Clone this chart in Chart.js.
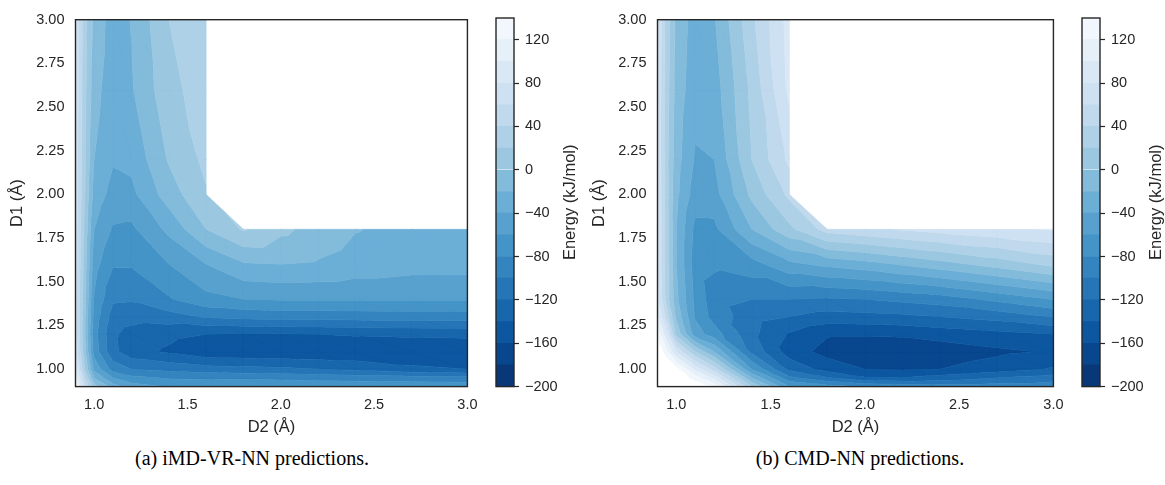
<!DOCTYPE html>
<html>
<head>
<meta charset="utf-8">
<script src="https://cdn.jsdelivr.net/npm/chart.js@4.4.1/dist/chart.umd.min.js"></script>
<style>
  body { margin: 0; background: #fff; width: 1165px; height: 485px; position: relative; overflow: hidden; }
  canvas { position: absolute; top: 0; }
  .cap { position: absolute; top: 447px; font-family: 'Liberation Serif', serif; font-size: 20px; color: #000; white-space: nowrap; transform: translateX(-50%); }
</style>
</head>
<body>
<canvas id="contourA" width="487" height="440" style="left:0"></canvas>
<canvas id="barA" width="100" height="440" style="left:490px"></canvas>
<canvas id="contourB" width="491" height="440" style="left:582px"></canvas>
<canvas id="barB" width="89" height="440" style="left:1076px"></canvas>
<div class="cap" style="left:252px">(a) iMD-VR-NN predictions.</div>
<div class="cap" style="left:860px">(b) CMD-NN predictions.</div>
<script>
// grid nodes (Å)
const d2Grid = [0.9, 0.95, 1.0, 1.1, 1.2, 1.4, 1.6, 1.8, 2.0, 2.2, 2.4, 2.7, 3.0];
const d1Grid = [0.9, 0.95, 1.0, 1.1, 1.2, 1.3, 1.4, 1.6, 1.8, 2.0, 2.2, 2.6, 3.0];

// contour levels and colorbar ticks (kJ/mol)
const energyLevels = [-200, -180, -160, -140, -120, -100, -80, -60, -40, -20, 0, 20, 40, 60, 80, 100, 120, 140];
const cbarTicks = [-200, -160, -120, -80, -40, 0, 40, 80, 120];

// energies, one row per D1 value (bottom to top), one column per D2 value
const energyImd = [
  [138, 60, 10, -30, -50, -62, -65, -62, -62, -63, -64, -65, -66],
  [110, 40, -20, -60, -75, -82, -84, -84, -86, -88, -90, -92, -94],
  [95, 20, -45, -88, -100, -106, -112, -114, -116, -120, -125, -135, -140],
  [75, 5, -68, -114, -133, -143, -154, -155, -155, -156, -156, -157, -157],
  [70, 0, -72, -116, -128, -135, -140, -142, -141, -140, -138, -136, -135],
  [68, 2, -68, -108, -112, -108, -98, -94, -92, -92, -91, -90, -90],
  [68, 5, -62, -97, -98, -82, -66, -60, -58, -58, -58, -58, -58],
  [70, 10, -52, -78, -78, -60, -40, -22, -20, -22, -28, -32, -32],
  [70, 15, -40, -62, -64, -35, 0, 22, 5, -8, -19, -26, -28],
  [72, 20, -28, -47, -45, -10, 18, null, null, null, null, null, null],
  [72, 22, -20, -38, -35, 2, 25, null, null, null, null, null, null],
  [75, 25, -12, -33, -22, 14, 30, null, null, null, null, null, null],
  [75, 27, -5, -30, -19, 20, 35, null, null, null, null, null, null]
];

const energyCmd = [
  [220, 200, 185, 165, 135, 20, -60, -72, -82, -85, -88, -88, -88],
  [200, 185, 165, 130, 95, -20, -95, -118, -138, -140, -132, -120, -110],
  [185, 170, 150, 95, 50, -60, -125, -148, -160, -162, -160, -150, -138],
  [165, 125, 80, 20, -20, -105, -150, -167, -173, -174, -172, -164, -158],
  [135, 85, 15, -50, -70, -115, -142, -158, -158, -157, -152, -146, -140],
  [105, 50, -5, -62, -88, -112, -120, -128, -126, -124, -120, -112, -99],
  [85, 30, -15, -65, -92, -100, -100, -102, -100, -95, -90, -75, -59],
  [80, 28, -20, -70, -76, -68, -45, -35, -28, -18, -8, 8, 25],
  [80, 28, -20, -65, -65, -20, 15, 48, 55, 62, 68, 75, 82],
  [80, 26, -15, -50, -48, 5, 45, null, null, null, null, null, null],
  [78, 25, -12, -42, -40, 20, 65, null, null, null, null, null, null],
  [78, 28, -8, -33, -30, 25, 85, null, null, null, null, null, null],
  [80, 30, -5, -30, -22, 35, 88, null, null, null, null, null, null]
];

const textColor = '#262626';
const tickFont = { family: 'Liberation Sans', size: 14.5 };
const titleFont = { family: 'Liberation Sans', size: 16.5 };

// reversed Blues map: dark for low energy
const bluesStops = ['#f7fbff', '#deebf7', '#c6dbef', '#9ecae1', '#6baed6', '#4292c6', '#2171b5', '#08519c', '#08306b'];
function blues(s) {
  const pos = Math.min(Math.max(s, 0), 1) * (bluesStops.length - 1);
  const i = Math.min(Math.floor(pos), bluesStops.length - 2);
  const f = pos - i;
  const a = parseInt(bluesStops[i].slice(1), 16), b = parseInt(bluesStops[i + 1].slice(1), 16);
  const ch = sh => Math.round(((a >> sh) & 255) * (1 - f) + ((b >> sh) & 255) * f);
  return 'rgb(' + ch(16) + ',' + ch(8) + ',' + ch(0) + ')';
}
function bandColor(k) {
  const lo = energyLevels[0], hi = energyLevels[energyLevels.length - 1];
  const mid = (energyLevels[k] + energyLevels[k + 1]) / 2;
  return blues(1 - (mid - lo) / (hi - lo));
}

// keep the part of a polygon above (or below) a level, linear along edges
function clipPoly(poly, level, keepAbove) {
  const out = [];
  for (let i = 0; i < poly.length; i++) {
    const a = poly[i], b = poly[(i + 1) % poly.length];
    const ina = keepAbove ? a.z >= level : a.z <= level;
    const inb = keepAbove ? b.z >= level : b.z <= level;
    if (ina) out.push(a);
    if (ina !== inb) {
      const t = (level - a.z) / (b.z - a.z);
      out.push({ x: a.x + t * (b.x - a.x), y: a.y + t * (b.y - a.y), z: level });
    }
  }
  return out;
}

const contourFill = {
  id: 'contourFill',
  beforeDatasetsDraw(chart, args, opts) {
    const { ctx, chartArea: area, scales: { x, y } } = chart;
    const grid = opts.energy;
    const node = (i, j) => ({ x: d2Grid[i], y: d1Grid[j], z: grid[j][i] });
    const tris = [];
    for (let j = 0; j < d1Grid.length - 1; j++) {
      for (let i = 0; i < d2Grid.length - 1; i++) {
        const a = node(i, j), b = node(i + 1, j), c = node(i, j + 1), d = node(i + 1, j + 1);
        tris.push([a, b, c], [b, d, c]);
      }
    }
    ctx.save();
    ctx.beginPath();
    ctx.rect(area.left, area.top, area.width, area.height);
    ctx.clip();
    for (let k = 0; k < energyLevels.length - 1; k++) {
      ctx.beginPath();
      tris.forEach(t => {
        if (t.some(v => v.z === null)) return;
        let poly = clipPoly(t, energyLevels[k], true);
        if (poly.length < 3) return;
        poly = clipPoly(poly, energyLevels[k + 1], false);
        if (poly.length < 3) return;
        poly.forEach((v, n) => {
          const px = x.getPixelForValue(v.x), py = y.getPixelForValue(v.y);
          if (n) ctx.lineTo(px, py); else ctx.moveTo(px, py);
        });
        ctx.closePath();
      });
      ctx.fillStyle = bandColor(k);
      ctx.strokeStyle = ctx.fillStyle;
      ctx.lineWidth = 0.6;
      ctx.fill();
      ctx.stroke();
    }
    ctx.restore();
  }
};

const frame = {
  id: 'frame',
  afterDatasetsDraw(chart) {
    const { ctx, chartArea: a } = chart;
    ctx.save();
    ctx.strokeStyle = textColor;
    ctx.lineWidth = 1.4;
    ctx.strokeRect(a.left, a.top, a.width, a.height);
    ctx.restore();
  }
};

const cbarLabel = {
  id: 'cbarLabel',
  afterDraw(chart) {
    const { ctx, chartArea: a } = chart;
    ctx.save();
    ctx.translate(a.right + 56, (a.top + a.bottom) / 2);
    ctx.rotate(-Math.PI / 2);
    ctx.font = '16.5px "Liberation Sans"';
    ctx.fillStyle = textColor;
    ctx.textAlign = 'center';
    ctx.textBaseline = 'middle';
    ctx.fillText('Energy (kJ/mol)', 0, 0);
    ctx.restore();
  }
};

function makeContour(id, energy) {
  new Chart(document.getElementById(id), {
    type: 'scatter',
    data: { datasets: [{ data: [] }] },
    options: {
      responsive: false,
      animation: false,
      layout: { padding: { left: 0, top: 18, right: 16, bottom: 0 } },
      plugins: { legend: { display: false }, tooltip: { enabled: false }, contourFill: { energy: energy } },
      scales: {
        x: {
          type: 'linear', min: 0.9, max: 3.0,
          afterFit: s => { s.height = 53.4; },
          grid: { display: false, drawTicks: false }, border: { display: false },
          ticks: { stepSize: 0.5, includeBounds: false, padding: 9.5, font: tickFont, color: textColor,
                   callback: v => v.toFixed(1) },
          title: { display: true, text: 'D2 (Å)', font: titleFont, color: textColor, padding: { top: 0, bottom: 3 } }
        },
        y: {
          type: 'linear', min: 0.9, max: 3.0,
          afterFit: s => { s.width = 75.5; },
          grid: { display: false, drawTicks: false }, border: { display: false },
          ticks: { stepSize: 0.25, includeBounds: false, padding: 11, font: tickFont, color: textColor,
                   callback: v => v.toFixed(2) },
          title: { display: true, text: 'D1 (Å)', font: titleFont, color: textColor, padding: { top: 8, bottom: 0 } }
        }
      }
    },
    plugins: [contourFill, frame]
  });
}

function makeColorbar(id) {
  const canvas = document.getElementById(id);
  const axisWidth = canvas.width - 6 - 18;
  new Chart(canvas, {
    type: 'bar',
    data: {
      labels: [''],
      datasets: energyLevels.slice(0, -1).map((lo, k) => ({
        data: [[lo, energyLevels[k + 1]]],
        backgroundColor: bandColor(k),
        grouped: false,
        barPercentage: 1,
        categoryPercentage: 1,
        borderWidth: 0
      }))
    },
    options: {
      responsive: false,
      animation: false,
      layout: { padding: { left: 6, top: 18, right: 0, bottom: 53.4 } },
      plugins: { legend: { display: false }, tooltip: { enabled: false } },
      scales: {
        x: { display: false },
        y: {
          position: 'right', min: energyLevels[0], max: energyLevels[energyLevels.length - 1],
          afterFit: s => { s.width = axisWidth; },
          afterBuildTicks: s => { s.ticks = cbarTicks.map(v => ({ value: v })); },
          border: { display: false },
          grid: { drawOnChartArea: false, tickLength: 5, tickColor: textColor, tickWidth: 1.2 },
          ticks: { padding: 6, font: tickFont, color: textColor,
                   callback: v => (v < 0 ? '\u2212' + Math.abs(v) : String(v)) }
        }
      }
    },
    plugins: [frame, cbarLabel]
  });
}

makeContour('contourA', energyImd);
makeContour('contourB', energyCmd);
makeColorbar('barA');
makeColorbar('barB');
</script>
</body>
</html>
